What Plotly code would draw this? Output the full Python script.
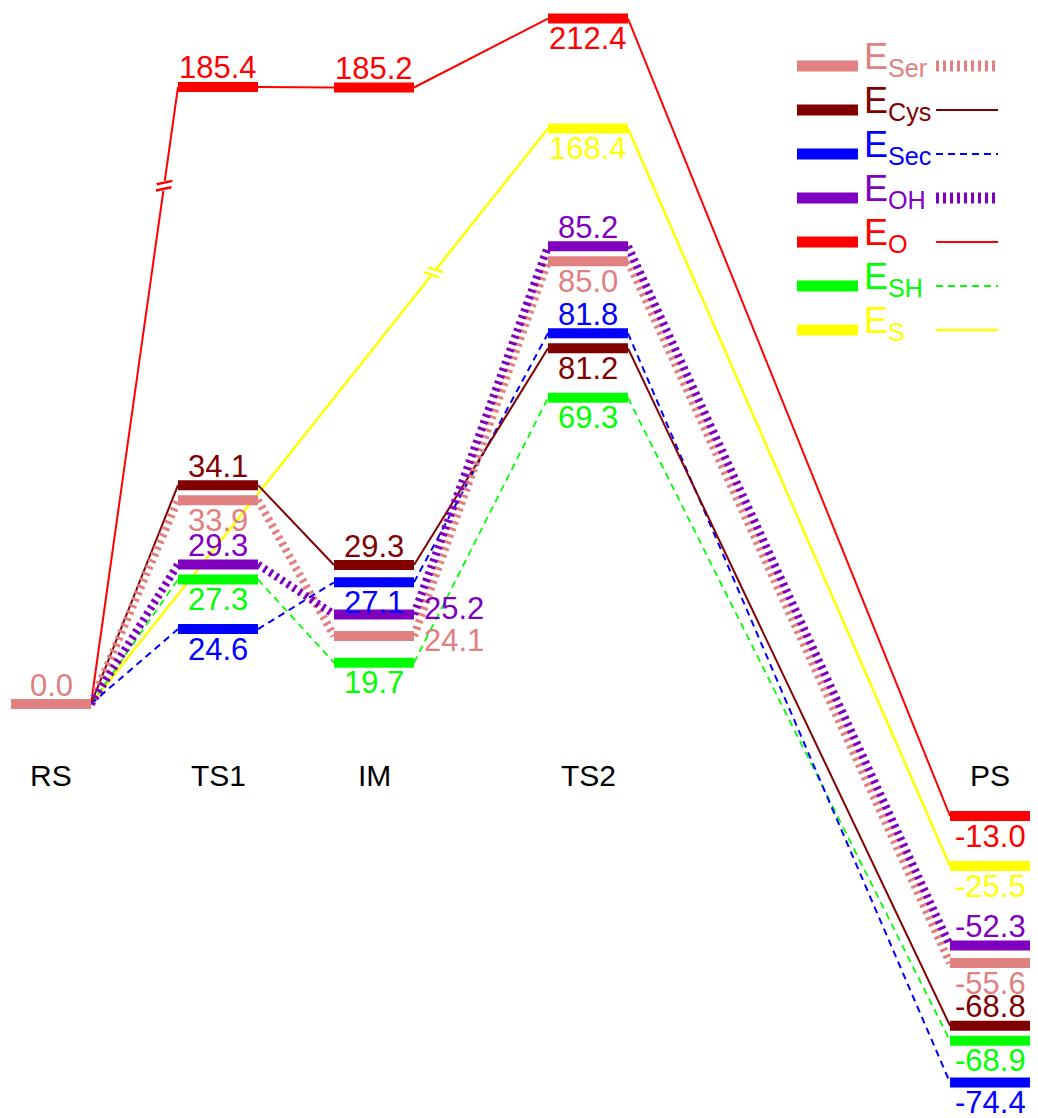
import numpy as np
import plotly.graph_objects as go

# ---------------- data ----------------
stages = ["RS", "TS1", "IM", "TS2", "PS"]
series = ["Ser", "Cys", "Sec", "OH", "O", "SH", "S"]

E_Ser = [0.0, 33.9, 24.1, 85.0, -55.6]
E_Cys = [0.0, 34.1, 29.3, 81.2, -68.8]
E_Sec = [0.0, 24.6, 27.1, 81.8, -74.4]
E_OH = [0.0, 29.3, 25.2, 85.2, -52.3]
E_O = [0.0, 185.4, 185.2, 212.4, -13.0]
E_SH = [0.0, 27.3, 19.7, 69.3, -68.9]
E_S = [0.0, None, None, 168.4, -25.5]

energies = {"Ser": E_Ser, "Cys": E_Cys, "Sec": E_Sec, "OH": E_OH,
            "O": E_O, "SH": E_SH, "S": E_S}

# ---------------- styles ----------------
COLORS = {"Ser": "#E08080", "Cys": "#800000", "Sec": "#0000FF", "OH": "#8000C0",
          "O": "#FF0000", "SH": "#00FF00", "S": "#FFFF00"}
LINK = {"Ser": dict(width=8, dash="3px,4px"),
        "Cys": dict(width=2, dash="solid"),
        "Sec": dict(width=2, dash="7px,5px"),
        "OH": dict(width=8, dash="3px,4px"),
        "O": dict(width=2, dash="solid"),
        "SH": dict(width=1.8, dash="7px,5px"),
        "S": dict(width=2.5, dash="solid")}
LEG_LINK = {"Ser": dict(width=11, dash="3px,4px"), "OH": dict(width=11, dash="3px,4px")}
LABEL_POS = {"Ser": ["above", "below", "right_down", "below", "below"],
             "Cys": [None, "above", "above", "below", "above"],
             "Sec": [None, "below", "below", "above", "below"],
             "OH": [None, "above", "right_up", "above", "above"],
             "O": [None, "above", "above", "below", "below"],
             "SH": [None, "below", "below", "below", "below"],
             "S": [None, None, None, "below", "below"]}
LABEL_SHIFT = {"above": 19, "below": -20, "right_up": 6, "right_down": -5}
FONT = "Liberation Sans, Arial, Helvetica, sans-serif"

# ---------------- layout (schematic, not to scale; broken axis) ----------------
STAGE_X = [51, 218, 374, 588, 990]
BAR_HALF = 40
BAR_W = 10
MIN_GAP = 15
SCALE_E = [-80, -75, -69, -52, -30, -13, 0, 20, 24.4, 25.3, 27.3, 29.3, 34, 70, 81.5, 85, 170, 215]
SCALE_H = [-420, -384, -330, -240, -180, -112, 0, 42, 70, 92, 125, 139, 212, 308, 360, 450, 578, 692]
STAGE_LABEL_H = -71
BREAKS = [("O", 0, 1, 0.84), ("S", 0, 3, 0.75)]


def to_h(e):
    return float(np.interp(e, SCALE_E, SCALE_H))


# heights with a minimum separation between distinct levels of a stage
heights = {s: [None] * len(stages) for s in series}
for k in range(len(stages)):
    vals = sorted({energies[s][k] for s in series if energies[s][k] is not None})
    hs = [to_h(v) for v in vals]
    for _ in range(200):
        moved = False
        for i in range(len(hs) - 1):
            d = hs[i + 1] - hs[i]
            if d < MIN_GAP - 1e-6:
                p = (MIN_GAP - d) / 2
                hs[i] -= p
                hs[i + 1] += p
                moved = True
        if not moved:
            break
    m = dict(zip(vals, hs))
    for s in series:
        if energies[s][k] is not None:
            heights[s][k] = m[energies[s][k]]

fig = go.Figure()

# connectors
link_order = ["S", "O", "SH", "Sec", "Cys", "Ser", "OH"]
for s in link_order:
    idx = [k for k in range(len(stages)) if heights[s][k] is not None]
    xs, ys = [], []
    for a, b in zip(idx[:-1], idx[1:]):
        xs += [STAGE_X[a] + BAR_HALF, STAGE_X[b] - BAR_HALF, None]
        ys += [heights[s][a], heights[s][b], None]
    fig.add_trace(go.Scatter(x=xs, y=ys, mode="lines",
                             line=dict(color=COLORS[s], width=LINK[s]["width"], dash=LINK[s]["dash"]),
                             hoverinfo="skip", showlegend=False))

# axis-break marks
for s, a, b, f in BREAKS:
    x0, y0 = STAGE_X[a] + BAR_HALF, heights[s][a]
    x1, y1 = STAGE_X[b] - BAR_HALF, heights[s][b]
    px, py = x0 + f * (x1 - x0), y0 + f * (y1 - y0)
    L = np.hypot(x1 - x0, y1 - y0)
    ux, uy = (x1 - x0) / L, (y1 - y0) / L
    ang = np.arctan2(uy, ux) - np.radians(70)
    vx, vy = np.cos(ang), np.sin(ang)
    fig.add_trace(go.Scatter(x=[px - 5 * ux, px + 5 * ux], y=[py - 5 * uy, py + 5 * uy], mode="lines",
                             line=dict(color="white", width=7), hoverinfo="skip", showlegend=False))
    for o in (-3.2, 3.2):
        cx, cy = px + o * ux, py + o * uy
        fig.add_trace(go.Scatter(x=[cx - 8 * vx, cx + 8 * vx], y=[cy - 8 * vy, cy + 8 * vy], mode="lines",
                                 line=dict(color=COLORS[s], width=2.5), hoverinfo="skip", showlegend=False))

# level bars
bar_order = ["S", "O", "SH", "Sec", "Cys", "OH", "Ser"]
for s in bar_order:
    xs, ys = [], []
    for k in range(len(stages)):
        h = heights[s][k]
        if h is None:
            continue
        xs += [STAGE_X[k] - BAR_HALF, STAGE_X[k] + BAR_HALF, None]
        ys += [h, h, None]
    fig.add_trace(go.Scatter(x=xs, y=ys, mode="lines",
                             line=dict(color=COLORS[s], width=BAR_W),
                             hoverinfo="skip", showlegend=False))

# value labels
ann = []
for s in series:
    for k in range(len(stages)):
        pos = LABEL_POS[s][k]
        if pos is None or energies[s][k] is None:
            continue
        txt = f"{energies[s][k]:.1f}"
        if pos.startswith("right"):
            ann.append(dict(x=STAGE_X[k] + BAR_HALF + 8, y=heights[s][k], xanchor="left", yanchor="middle",
                            yshift=LABEL_SHIFT[pos], text=txt, showarrow=False,
                            font=dict(family=FONT, size=31, color=COLORS[s])))
        else:
            ann.append(dict(x=STAGE_X[k], y=heights[s][k], xanchor="center", yanchor="middle",
                            yshift=LABEL_SHIFT[pos], text=txt, showarrow=False,
                            font=dict(family=FONT, size=31, color=COLORS[s])))

# stage labels
for k, name in enumerate(stages):
    ann.append(dict(x=STAGE_X[k], y=STAGE_LABEL_H, text=name, showarrow=False,
                    xanchor="center", yanchor="middle",
                    font=dict(family=FONT, size=30, color="black")))

# custom legend
LEG_TOP_H = 638
LEG_STEP = 44
shapes = []
for i, s in enumerate(series):
    yh = LEG_TOP_H - i * LEG_STEP
    shapes.append(dict(type="line", x0=797, x1=858, y0=yh, y1=yh, xref="x", yref="y",
                       line=dict(color=COLORS[s], width=11)))
    ll = LEG_LINK.get(s, LINK[s])
    shapes.append(dict(type="line", x0=936, x1=998, y0=yh, y1=yh, xref="x", yref="y",
                       line=dict(color=COLORS[s], width=ll["width"], dash=ll["dash"])))
    ann.append(dict(x=862, y=yh, xanchor="left", yanchor="middle", yshift=7, text=f"E<sub>{s}</sub>",
                    showarrow=False, font=dict(family=FONT, size=36, color=COLORS[s])))

fig.update_layout(
    width=1038, height=1118,
    margin=dict(l=0, r=0, t=0, b=0),
    paper_bgcolor="white", plot_bgcolor="white",
    xaxis=dict(range=[0, 1038], visible=False, fixedrange=True),
    yaxis=dict(range=[-414, 704], visible=False, fixedrange=True),
    annotations=ann, shapes=shapes, hovermode=False,
)

fig.write_html("out.html", config={"displayModeBar": False, "staticPlot": True},
               post_script="document.body.style.margin='0';document.body.style.overflow='hidden';")
